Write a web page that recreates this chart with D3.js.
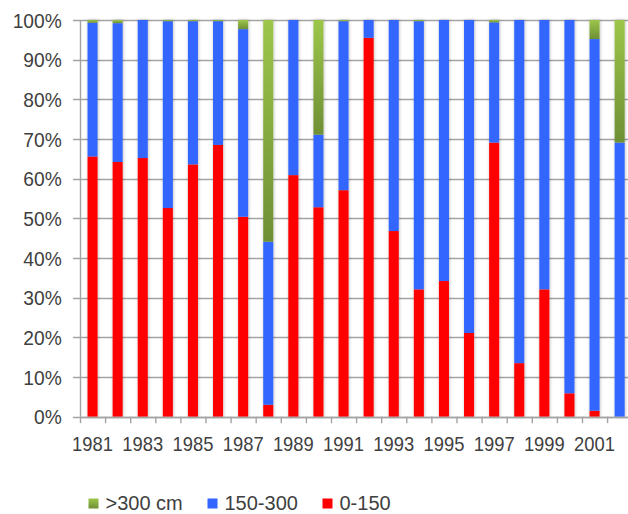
<!DOCTYPE html>
<html>
<head>
<meta charset="utf-8">
<script src="https://cdn.jsdelivr.net/npm/d3@7"></script>
<style>
  html, body { margin: 0; padding: 0; background: #fff; }
  svg { display: block; }
  text { font-family: "Liberation Sans", Arial, sans-serif; fill: #3f3f3f; }
</style>
</head>
<body>
<svg id="chart" width="628" height="514"></svg>
<script>
// Share of each depth class per year (percent of the total)
const years = ["1981","1982","1983","1984","1985","1986","1987","1988","1989","1990","1991",
               "1992","1993","1994","1995","1996","1997","1998","1999","2000","2001","2002"];
const low  = [65.6, 64.2, 65.2, 52.6, 63.6, 68.5, 50.4, 3.0, 60.9, 52.8, 57.1,
              95.5, 46.8, 32.1, 34.2, 21.1, 69.1, 13.5, 32.1, 5.9, 1.5, 0];
const mid  = [33.7, 35.0, 34.8, 47.1, 36.1, 31.2, 47.3, 41.1, 39.1, 18.3, 42.6,
              4.5, 53.2, 67.6, 65.8, 78.9, 30.3, 86.5, 67.9, 94.1, 93.7, 69.1];
const high = [0.7, 0.8, 0, 0.3, 0.3, 0.3, 2.3, 55.9, 0, 28.9, 0.3,
              0, 0, 0.3, 0, 0, 0.6, 0, 0, 0, 4.8, 30.9];
const seriesNames = ["0-150", "150-300", ">300 cm"];
const legendOrder = [">300 cm", "150-300", "0-150"];
const yTicks = [0, 10, 20, 30, 40, 50, 60, 70, 80, 90, 100];
const xLabels = years.filter((d, i) => i % 2 === 0);

const svg = d3.select("#chart");
const plotLeft = 80, plotTop = 20, plotBottom = 416.7;
const step = 25.1;
const plotRight = plotLeft + step * years.length;

const defs = svg.append("defs");
const grad = defs.append("linearGradient").attr("id", "greenGrad")
  .attr("x1", 0).attr("y1", 0).attr("x2", 0).attr("y2", 1);
grad.append("stop").attr("offset", "0%").attr("stop-color", "#9cc64a");
grad.append("stop").attr("offset", "100%").attr("stop-color", "#6f8f35");

const shadow = defs.append("filter").attr("id", "soft")
  .attr("x", "-60%").attr("y", "-5%").attr("width", "220%").attr("height", "110%");
shadow.append("feDropShadow").attr("dx", 0.5).attr("dy", 0).attr("stdDeviation", 1.6)
  .attr("flood-color", "#000").attr("flood-opacity", 0.28);

const colors = { "0-150": "#ff0000", "150-300": "#3366ff", ">300 cm": "url(#greenGrad)" };

const x = d3.scaleBand().domain(years).range([plotLeft, plotRight])
  .paddingInner(0.6).paddingOuter(0.3);
const xCat = d3.scaleBand().domain(years).range([plotLeft, plotRight]).padding(0);
const y = d3.scaleLinear().domain([0, 100]).range([plotBottom, plotTop]);

// gridlines
svg.append("g").selectAll("line").data(yTicks).join("line")
  .attr("x1", plotLeft - 7).attr("x2", 628)
  .attr("y1", d => Math.round(y(d)) + 0.5).attr("y2", d => Math.round(y(d)) + 0.5)
  .attr("stroke", "#a3a3a3").attr("stroke-width", 1.6);

// y axis line
svg.append("line").attr("x1", plotLeft + 0.5).attr("x2", plotLeft + 0.5)
  .attr("y1", y(100)).attr("y2", y(0))
  .attr("stroke", "#a3a3a3").attr("stroke-width", 1.4);

// y labels (slightly condensed)
const yAxis = svg.append("g").attr("transform", `translate(${plotLeft},0)`)
  .call(d3.axisLeft(y).tickValues(yTicks).tickSize(0).tickPadding(19)
    .tickFormat(d => d + "%"));
yAxis.select(".domain").remove();
yAxis.selectAll("text").style("font-size", "20px").attr("dy", "0.36em")
  .attr("transform", "scale(0.96,1)");

// stacked bars
const rows = years.map((yr, i) => ({ year: yr, "0-150": low[i], "150-300": mid[i], ">300 cm": high[i] }));
const stack = d3.stack().keys(seriesNames)(rows);
const barsG = svg.append("g").attr("filter", "url(#soft)");
barsG.selectAll("g").data(stack).join("g")
  .attr("fill", s => colors[s.key])
  .selectAll("rect").data(s => s.filter(d => d[1] - d[0] > 0)).join("rect")
  .attr("x", d => x(d.data.year))
  .attr("width", x.bandwidth())
  .attr("y", d => y(d[1]))
  .attr("height", d => y(d[0]) - y(d[1]));

// x axis line and category ticks
svg.append("line").attr("x1", plotLeft).attr("x2", 628)
  .attr("y1", Math.round(y(0)) + 0.5).attr("y2", Math.round(y(0)) + 0.5)
  .attr("stroke", "#a3a3a3").attr("stroke-width", 1.6);
svg.append("g").selectAll("line").data(years).join("line")
  .attr("x1", d => xCat(d) + 0.5).attr("x2", d => xCat(d) + 0.5)
  .attr("y1", y(0)).attr("y2", y(0) + 6.5)
  .attr("stroke", "#a3a3a3").attr("stroke-width", 1.4);

const xAxis = svg.append("g").attr("transform", `translate(0,${y(0)})`)
  .call(d3.axisBottom(x).tickValues(xLabels).tickSize(0).tickPadding(20));
xAxis.select(".domain").remove();
xAxis.selectAll("text").style("font-size", "20px").attr("dy", "0.71em")
  .attr("transform", "scale(0.92,1)");

// legend
const legendX = [88.5, 207.5, 322.5];
const lg = svg.append("g").selectAll("g").data(legendOrder).join("g")
  .attr("transform", (d, i) => `translate(${legendX[i]},498.5)`);
lg.append("rect").attr("width", 10).attr("height", 10)
  .attr("fill", d => colors[d]);
lg.append("text").attr("x", 17).attr("y", 11.5)
  .style("font-size", "20px").text(d => d);
</script>
</body>
</html>
